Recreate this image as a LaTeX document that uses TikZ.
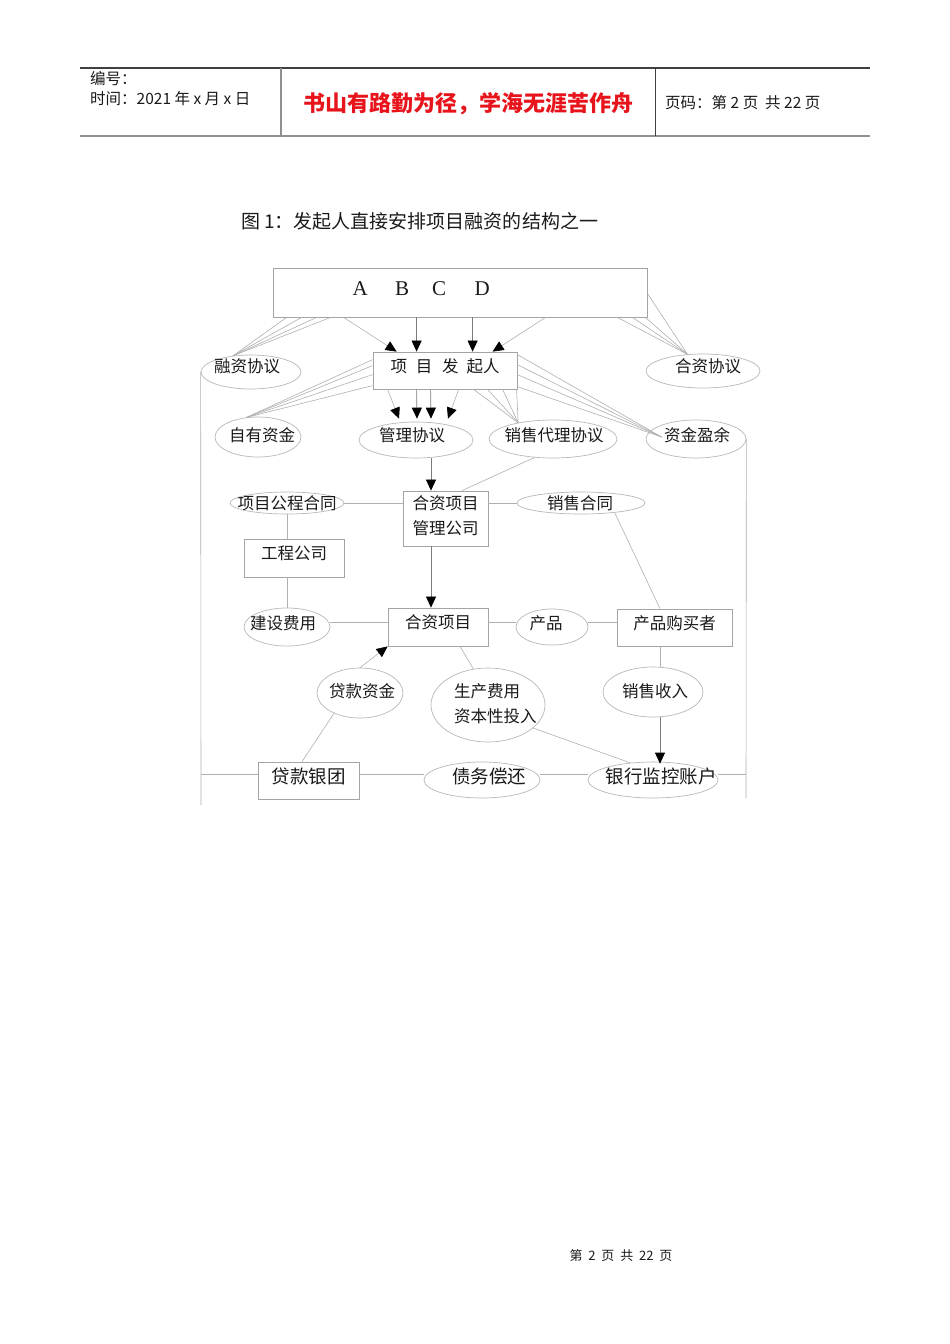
\documentclass[tikz,border=0pt]{standalone}
\usepackage{fontspec}
\setmainfont{Liberation Serif}
\newfontfamily\cjk{Noto Sans CJK SC}
\usetikzlibrary{shapes.geometric,arrows.meta,calc}
\definecolor{txtc}{HTML}{1A1A1A}
\definecolor{boxc}{HTML}{A4A4A4}
\definecolor{elc}{HTML}{B8B8B8}
\definecolor{lnc}{HTML}{B0B0B0}
\definecolor{arc}{HTML}{7C7C7C}
\definecolor{redc}{HTML}{E8141C}
\definecolor{hda}{HTML}{404040}
\definecolor{hdb}{HTML}{909090}
\tikzset{
  bx/.style={draw=boxc, line width=0.8pt, inner sep=0pt, text=txtc, font=\cjk\fontsize{16.5}{25}\selectfont, align=center, text depth=10pt},
  el/.style={ellipse, draw=elc, line width=0.7pt, inner sep=0pt},
  tx/.style={inner sep=0pt, text=txtc, font=\cjk\fontsize{16.5}{25}\selectfont},
  txl/.style={inner sep=0pt, text=txtc, font=\cjk\fontsize{18.5}{22}\selectfont},
  hdtx/.style={inner sep=0pt, text=txtc, font=\cjk\fontsize{15.5}{18}\selectfont},
  ln/.style={draw=lnc, line width=0.6pt},
  ar/.style={draw=arc, line width=0.7pt, -{Triangle[length=11pt,width=10pt,color=black]}},
  arl/.style={draw=lnc, line width=0.6pt, -{Triangle[length=11pt,width=10pt,color=black]}},
}
\begin{document}
\begin{tikzpicture}[x=1pt,y=-1pt]
\fill[white] (0,0) rectangle (950,1344);
\useasboundingbox (0,0) rectangle (950,1344);

% ---------- header ----------
\draw[draw=hda, line width=1.2pt] (80,68) -- (870,68);
\draw[draw=hdb, line width=2pt] (80,136) -- (870,136);
\draw[draw=hdb, line width=1.5pt] (281,68) -- (281,136);
\draw[draw=hda, line width=1pt] (655,68) -- (655,136);
\node[hdtx, anchor=west] (hnum) at (90,79) {编号：};
\node[hdtx, anchor=west] (htime) at (90,99) {时间：2021 年\ x\ 月\ x\ 日};
\node[inner sep=0pt, text=redc, font=\cjk\bfseries\fontsize{22}{26}\selectfont] (hmotto) at (468,104) {书山有路勤为径，学海无涯苦作舟};
\node[hdtx, anchor=west] (hpage) at (665,103) {页码：第 2 页\ \ 共 22 页};

% ---------- caption ----------
\node[inner sep=0pt, text=txtc, font=\cjk\fontsize{19}{22}\selectfont, anchor=west] (cap) at (241,221) {图 1：发起人直接安排项目融资的结构之一};

% ---------- boxes ----------
\node[bx, minimum width=374pt, minimum height=49pt] (abcd) at (460,292.5) {};
\node[inner sep=0pt, text=txtc, font=\fontsize{21}{24}\selectfont, anchor=base west] (abcdt) at (352.4,295) {A\hspace{27.4pt}B\hspace{23pt}C\hspace{28.4pt}D};
\node[bx, minimum width=144pt, minimum height=37pt] (pf) at (445,370.5) {项\hspace{9pt}目\hspace{9.5pt}发\hspace{8pt}起人};
\node[bx, minimum width=85pt, minimum height=55pt, text depth=6.5pt] (glgs) at (445.5,518.5) {合资项目\\管理公司};
\node[bx, minimum width=100pt, minimum height=38pt] (gcgs) at (294,558) {工程公司};
\node[bx, minimum width=100pt, minimum height=38pt] (hzxm) at (438,627) {合资项目};
\node[bx, minimum width=115pt, minimum height=37pt] (cpgm) at (674.5,627.5) {产品购买者};
\node[bx, minimum width=101pt, minimum height=37pt, font=\cjk\fontsize{18.5}{22}\selectfont] (dkyt) at (308.5,780.5) {贷款银团};

% ---------- ellipses ----------
\node[el, minimum width=100pt, minimum height=34pt] (rzxy) at (251,372) {};
\node[el, minimum width=114pt, minimum height=34pt] (hzxy) at (703,371) {};
\node[el, minimum width=86pt, minimum height=40pt] (zyzj) at (258,437) {};
\node[el, minimum width=114pt, minimum height=36pt] (glxy) at (416,440) {};
\node[el, minimum width=128pt, minimum height=38pt] (xsdl) at (553,439) {};
\node[el, minimum width=100pt, minimum height=38pt] (zjyy) at (696,439) {};
\node[el, minimum width=114pt, minimum height=22pt] (xmgc) at (287,503) {};
\node[el, minimum width=128pt, minimum height=22pt] (xsht) at (581,503) {};
\node[el, minimum width=86pt, minimum height=38pt] (jsfy) at (287,627) {};
\node[el, minimum width=72pt, minimum height=36pt] (cp) at (552,627) {};
\node[el, minimum width=114pt, minimum height=74pt] (scfy) at (488,705) {};
\node[el, minimum width=100pt, minimum height=50pt] (xssr) at (653,692) {};
\node[el, minimum width=86pt, minimum height=50pt] (dkzj) at (360,693) {};
\node[el, minimum width=116pt, minimum height=36pt] (zwch) at (482,780) {};
\node[el, minimum width=130pt, minimum height=36pt] (yhjk) at (653,780) {};

% ---------- ellipse texts ----------
\node[tx] (rzxyt) at (247,366) {融资协议};
\node[tx] (hzxyt) at (708,366) {合资协议};
\node[tx] (zyzjt) at (262,435) {自有资金};
\node[tx] (glxyt) at (412,435) {管理协议};
\node[tx] (xsdlt) at (554,435) {销售代理协议};
\node[tx] (zjyyt) at (697,435) {资金盈余};
\node[tx] (xmgct) at (287,503) {项目公程合同};
\node[tx] (xshtt) at (580,503) {销售合同};
\node[tx] (jsfyt) at (283,623) {建设费用};
\node[tx] (cpt) at (546,623) {产品};
\node[tx, align=left, anchor=west] (scfyt) at (454,703.5) {生产费用\\资本性投入};
\node[tx] (xssrt) at (655,691) {销售收入};
\node[tx] (dkzjt) at (362,691) {贷款资金};
\node[txl] (zwcht) at (489,776) {债务偿还};
\node[txl] (yhjkt) at (661,776) {银行监控账户};

% ---------- connectors: top ----------
\foreach \dx in {14,29,44,58} \draw[ln] ([xshift=\dx pt]abcd.south west) -- (rzxy.138);
\draw[ln] ([yshift=24pt]abcd.south east) -- (hzxy.133);
\foreach \dx in {-30,-15,-2} \draw[ln] ([xshift=\dx pt]abcd.south east) -- (hzxy.133);
\draw[arl] ([xshift=71pt]abcd.south west) -- ([xshift=24pt]pf.north west);
\draw[ar] ([xshift=144pt]abcd.south west) -- ([xshift=44pt]pf.north west);
\draw[ar] ([xshift=200pt]abcd.south west) -- ([xshift=100pt]pf.north west);
\draw[arl] ([xshift=273pt]abcd.south west) -- ([xshift=120pt]pf.north west);

\foreach \dy in {8,14,23,34} \draw[ln] ([yshift=-\dy pt]pf.north west) -- (zyzj.120);
\coordinate (c4) at ([xshift=16pt,yshift=2pt]zjyy.west);
\foreach \dy in {3,13,23,35} \draw[ln] ([yshift=-\dy pt]pf.north east) -- (c4);
\foreach \dx in {101,115,130,144} \draw[ln] ([xshift=\dx pt]pf.south west) -- (xsdl.155);

\draw[arl] ([xshift=15pt]pf.south west) -- ([xshift=-17pt,yshift=3pt]glxy.north);
\draw[ar] ([xshift=44pt]pf.south west) -- ([xshift=1pt,yshift=3pt]glxy.north);
\draw[ar] ([xshift=58pt]pf.south west) -- ([xshift=15pt,yshift=3pt]glxy.north);
\draw[arl] ([xshift=86pt]pf.south west) -- ([xshift=32pt,yshift=3pt]glxy.north);

% ---------- connectors: middle ----------
\draw[ar] ([xshift=-14.5pt]glgs.north |- glxy.south) -- ([xshift=-14.5pt]glgs.north);
\draw[ln] (xsdl.225) -- ([xshift=16.5pt]glgs.north);
\draw[ln] (xmgc.east) -- (xmgc.east -| glgs.west);
\draw[ln] (xsht.west -| glgs.east) -- (xsht.west);
\draw[ln] (xmgc.south) -- (gcgs.north -| xmgc.south);
\draw[ln] (gcgs.south -| jsfy.north) -- (jsfy.north);
\draw[ar] ([xshift=-14.5pt]glgs.south) -- ([xshift=-7pt]hzxm.north);
\coordinate (row4) at (0,622);
\draw[ln] (jsfy.east |- row4) -- (hzxm.west |- row4);
\draw[ln] (hzxm.east |- row4) -- (cp.west |- row4);
\draw[ln] (cp.east |- row4) -- (cpgm.west |- row4);
\draw[ln] (xsht.-16) -- ([xshift=-14.5pt]cpgm.north);

% ---------- connectors: lower ----------
\draw[ln] ([xshift=-14.5pt]cpgm.south) -- ([xshift=-14.5pt]cpgm.south |- xssr.north);
\draw[ar] ([xshift=7pt]xssr.south) -- ([xshift=7pt,yshift=-2pt]yhjk.north);
\draw[ln] ([xshift=22pt]hzxm.south) -- (scfy.112);
\draw[ln] (scfy.-27) -- (yhjk.143);
\draw[arl] (dkzj.north) -- (hzxm.south west);
\draw[ln] ([xshift=-6.5pt]dkyt.north) -- (dkzj.218);

% ---------- side lines and bottom row ----------
\coordinate (lbot) at (201,805);
\coordinate (lrow) at (201,774);
\draw[ln] (rzxy.west) -- (lbot);
\draw[ln] (lrow) -- (lrow -| dkyt.west);
\coordinate (rbot) at (746,798);
\coordinate (rrow) at (746,774);
\draw[ln] (zjyy.east) -- (rbot);
\draw[ln] (rrow -| yhjk.east) -- (rrow);
\draw[ln] (lrow -| dkyt.east) -- (lrow -| zwch.west);
\draw[ln] (lrow -| zwch.east) -- (lrow -| yhjk.west);

% ---------- footer ----------
\node[inner sep=0pt, text=txtc, font=\cjk\fontsize{13}{16}\selectfont] (foot) at (621,1256) {第\ \ 2\ \ 页\ \ 共\ \ 22\ \ 页};
\end{tikzpicture}
\end{document}
